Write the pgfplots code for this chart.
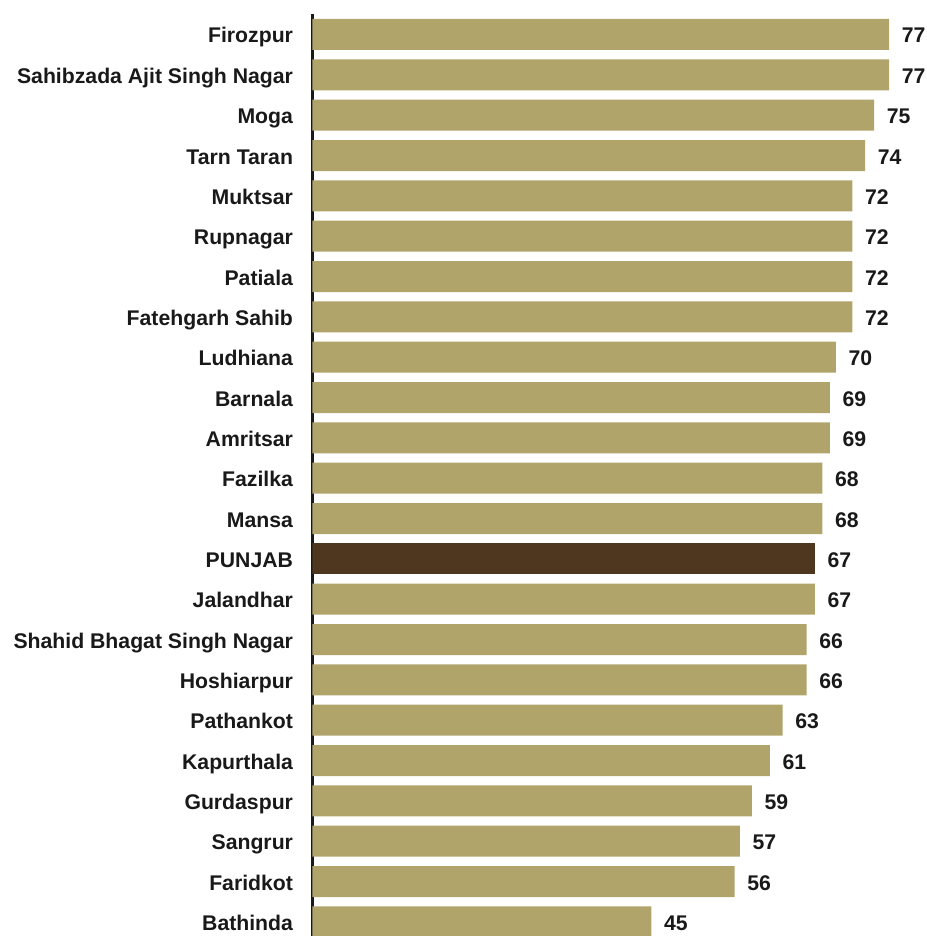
\documentclass[border=0pt]{standalone}
\usepackage{fontspec}
\setmainfont{Liberation Sans}
\usepackage{pgfplots}
\pgfplotsset{compat=1.18}
\definecolor{khaki}{RGB}{176,164,106}
\definecolor{darkbrown}{RGB}{78,54,31}
\begin{document}
\begin{tikzpicture}
\begin{axis}[
  scale only axis,
  width=615bp, height=922bp,
  xbar, bar width=31bp, bar shift=0pt,
  xmin=0, xmax=82,
  ymin=-0.508, ymax=22.35,
  y dir=reverse,
  enlargelimits=false,
  axis x line=none,
  axis y line*=left,
  y axis line style={line width=2.8bp, black!90},
  major tick length=0pt,
  ytick={0,...,22},
  yticklabels={Firozpur,Sahibzada Ajit Singh Nagar,Moga,Tarn Taran,Muktsar,Rupnagar,Patiala,Fatehgarh Sahib,Ludhiana,Barnala,Amritsar,Fazilka,Mansa,PUNJAB,Jalandhar,Shahid Bhagat Singh Nagar,Hoshiarpur,Pathankot,Kapurthala,Gurdaspur,Sangrur,Faridkot,Bathinda},
  yticklabel style={font=\bfseries\fontsize{21.3}{24}\selectfont, text=black!90, anchor=base east, xshift=-16bp, yshift=-8.5bp},
  point meta=x,
  nodes near coords,
  nodes near coords style={font=\bfseries\fontsize{21.3}{24}\selectfont, text=black!90, anchor=base west, xshift=9bp, yshift=-8.5bp},
  /pgf/number format/.cd, fixed, precision=0, assume math mode=true,
]
\addplot[fill=khaki, draw=none] coordinates {
(76.9,0) (76.9,1) (74.9,2) (73.7,3) (72,4) (72,5) (72,6) (72,7) (69.8,8) (69,9) (69,10) (68,11) (68,12)
(67,14) (65.9,15) (65.9,16) (62.7,17) (61,18) (58.6,19) (57,20) (56.3,21) (45.2,22)
};
\addplot[fill=darkbrown, draw=none] coordinates {(67,13)};
\coordinate (TL) at (axis cs:0,-0.508);
\coordinate (BR) at (axis cs:82,22.35);
\end{axis}
\pgfresetboundingbox
\useasboundingbox ([xshift=-312.5bp,yshift=14bp]TL) rectangle ([xshift=-0.5bp]BR);
\end{tikzpicture}
\end{document}
